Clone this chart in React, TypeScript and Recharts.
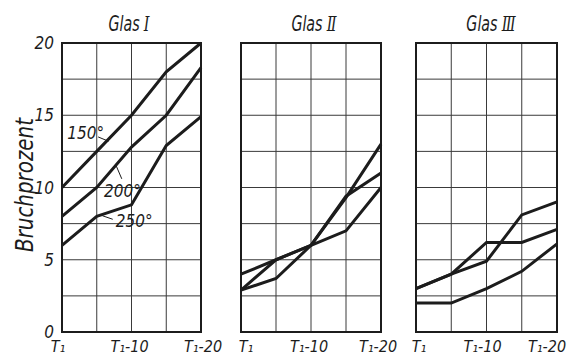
import React from 'react';
import { LineChart, Line, XAxis, YAxis, CartesianGrid, ReferenceArea, ReferenceLine, ReferenceDot } from 'recharts';

// x positions (steps of T1) and their labels
const X_STEPS = [0, 5, 10, 15, 20];
const X_LABELS = ['T₁', '', 'T₁-10', '', 'T₁-20'];
const Y_TICKS = [0, 2.5, 5, 7.5, 10, 12.5, 15, 17.5, 20];

// Glas I
const GLAS1_150 = [10, 12.5, 15, 18, 20];
const GLAS1_200 = [8, 10, 12.8, 15, 18.3];
const GLAS1_250 = [6, 8, 8.8, 12.9, 14.9];
// Glas II
const GLAS2_A = [4.0, 5.0, 6.0, 7.0, 10.0];
const GLAS2_B = [2.9, 5.0, 6.0, 9.3, 13.0];
const GLAS2_C = [2.9, 3.7, 6.0, 9.4, 11.0];
// Glas III
const GLAS3_A = [3.0, 4.0, 6.2, 6.2, 7.1];
const GLAS3_B = [3.0, 4.0, 4.9, 8.1, 9.0];
const GLAS3_C = [2.0, 2.0, 3.0, 4.2, 6.1];

const FONT = "'DejaVu Sans Condensed', 'Liberation Sans Narrow', 'DejaVu Sans', sans-serif";
const NUM = "'DejaVu Serif', serif";
const INK = '#1c1c1c';

const rows = (a: number[], b: number[], c: number[]) =>
  X_STEPS.map((x, i) => ({ x, a: a[i], b: b[i], c: c[i] }));

const makeTick = (shifts: number[]) => (props: any) => {
  const { x, y, payload } = props;
  const i = X_STEPS.indexOf(payload.value);
  const label = X_LABELS[i];
  if (!label) return <g />;
  return (
    <text x={x + shifts[i]} y={y + 20} textAnchor="middle" fontSize={16} fontStyle="italic"
      fontFamily={FONT} fill={INK}>{label}</text>
  );
};

const degLabel = (text: string) => (p: any) => {
  const vb = p.viewBox || {};
  const cx = (vb.x || 0) + (vb.width || 0) / 2;
  const cy = (vb.y || 0) + (vb.height || 0) / 2;
  return (
    <text x={cx} y={cy + 6} textAnchor="middle" fontSize={17} fontStyle="italic" fontFamily={FONT} fill={INK}>{text}</text>
  );
};

interface PanelProps {
  data: any[];
  left: number;
  width: number;
  mLeft: number;
  mRight: number;
  withY?: boolean;
  shifts: number[];
  children?: React.ReactNode;
}

const Panel: React.FC<PanelProps> = ({ data, left, width, mLeft, mRight, withY, shifts, children }) => (
  <div style={{ position: 'absolute', left, top: 0 }}>
    <LineChart width={width} height={356} data={data} margin={{ top: 43, right: mRight, bottom: 0, left: mLeft }}>
      <CartesianGrid stroke="#3a3a3a" strokeWidth={1} />
      <XAxis dataKey="x" type="number" domain={[0, 20]} ticks={X_STEPS} interval={0} height={24}
        tickLine={false} axisLine={false} tickSize={0} tickMargin={0} tick={makeTick(shifts)} />
      <YAxis type="number" domain={[0, 20]} ticks={Y_TICKS} interval={0} width={withY ? 62 : 0}
        tickLine={false} axisLine={false} tickSize={0} tickMargin={8}
        tick={{ fontSize: 17, fontStyle: 'italic', fontFamily: FONT, fill: INK }}
        tickFormatter={(v: number) => (withY && v % 5 === 0 ? String(v) : '')} />
      <ReferenceArea x1={0} x2={20} y1={0} y2={20} fill="none" stroke={INK} strokeWidth={2} />
      <Line dataKey="a" stroke={INK} strokeWidth={3} dot={false} isAnimationActive={false} />
      <Line dataKey="b" stroke={INK} strokeWidth={3} dot={false} isAnimationActive={false} />
      <Line dataKey="c" stroke={INK} strokeWidth={3} dot={false} isAnimationActive={false} />
      {children}
    </LineChart>
  </div>
);

// one text per title, squeezed horizontally like the narrow drafting lettering
const Title: React.FC<{ x: number; num: string }> = ({ x, num }) => (
  <text transform={`translate(${x},31) scale(0.72,1)`} textAnchor="middle" fontSize={22}>
    Glas<tspan dx={6} fontFamily={NUM} fontSize={20}>{num}</tspan>
  </text>
);

export default function App() {
  return (
    <div style={{ position: 'absolute', left: 0, top: 0, width: 573, height: 356, background: '#fff', overflow: 'hidden' }}>
      <Panel data={rows(GLAS1_150, GLAS1_200, GLAS1_250)} left={0} width={225} mLeft={0} mRight={24} withY
        shifts={[-4, 0, -2, 0, 2]}>
        <ReferenceLine segment={[{ x: 5.2, y: 13.5 }, { x: 6.7, y: 13.2 }]} stroke={INK} strokeWidth={1} />
        <ReferenceDot x={3.4} y={13.8} r={1} fill="none" stroke="none" label={{ content: degLabel('150°') }} />
        <ReferenceLine segment={[{ x: 7.8, y: 11.5 }, { x: 8.6, y: 10.6 }]} stroke={INK} strokeWidth={1} />
        <ReferenceDot x={8.7} y={9.75} r={1} fill="none" stroke="none" label={{ content: degLabel('200°') }} />
        <ReferenceLine segment={[{ x: 5.8, y: 8.05 }, { x: 7.3, y: 7.8 }]} stroke={INK} strokeWidth={1} />
        <ReferenceDot x={10.4} y={7.7} r={1} fill="none" stroke="none" label={{ content: degLabel('250°') }} />
      </Panel>
      <Panel data={rows(GLAS2_A, GLAS2_B, GLAS2_C)} left={226} width={180} mLeft={15} mRight={25}
        shifts={[5, 0, -2, 0, -3]} />
      <Panel data={rows(GLAS3_A, GLAS3_B, GLAS3_C)} left={401} width={172} mLeft={15} mRight={16}
        shifts={[3, 0, -4, 0, -10]} />
      <svg width={573} height={356} style={{ position: 'absolute', left: 0, top: 0, pointerEvents: 'none' }}
        fontFamily={FONT} fontStyle="italic" fill={INK}>
        <Title x={129} num="Ⅰ" />
        <Title x={314} num="Ⅱ" />
        <Title x={491} num="Ⅲ" />
        <text transform="translate(33,185) rotate(-90)" textAnchor="middle" fontSize={24} textLength={134}
          lengthAdjust="spacingAndGlyphs">Bruchprozent</text>
      </svg>
    </div>
  );
}
